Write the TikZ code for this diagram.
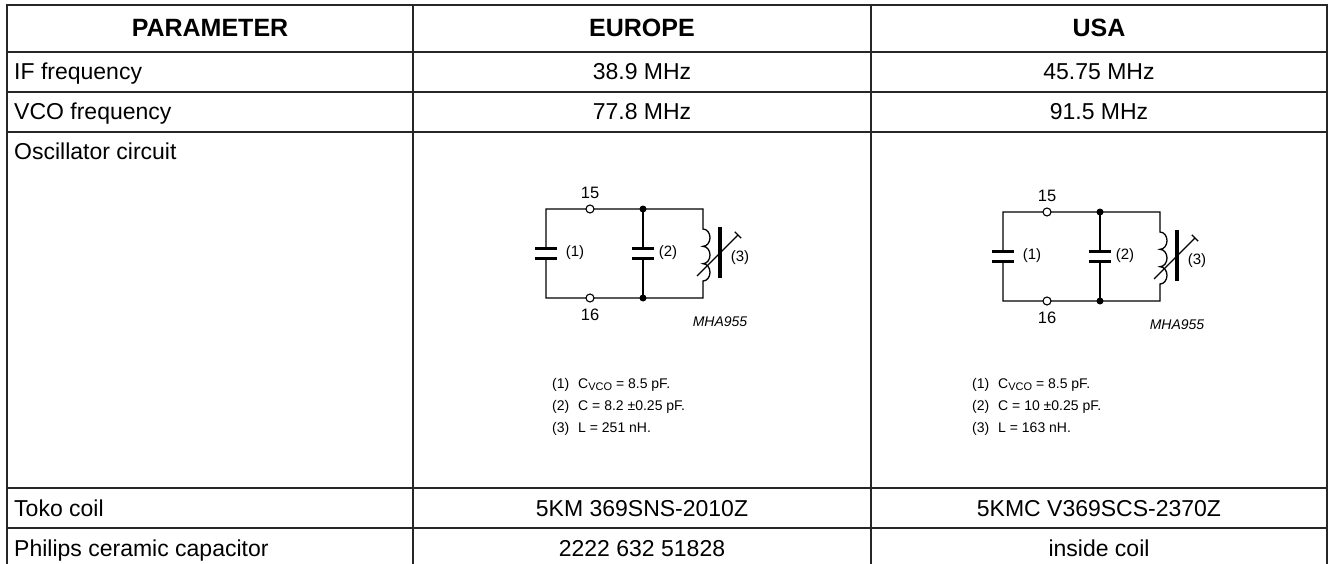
\documentclass[tikz,border=0pt]{standalone}
\usepackage{fontspec}
\setmainfont{Liberation Sans}
\begin{document}
\begin{tikzpicture}[x=1pt,y=-1pt,
  grid/.style={line width=2pt, draw=black!85},
  body/.style={font=\fontsize{23}{26}\selectfont, inner sep=0pt},
  head/.style={font=\fontsize{25}{28}\selectfont\bfseries, inner sep=0pt},
  wire/.style={line width=1.3pt, line join=miter},
  plate/.style={line width=3pt},
  clab/.style={font=\fontsize{16.5}{18}\selectfont, inner sep=0pt},
  plab/.style={font=\fontsize{15}{16}\selectfont, inner sep=0pt},
  legend/.style={font=\fontsize{14}{16}\selectfont, inner sep=0pt, anchor=base west},
  term/.style={circle, draw, fill=white, inner sep=0pt, minimum size=8pt, line width=1.1pt},
  osc/.pic={
    \draw[wire] (546,248) -- (546,209) -- (703,209) -- (703,229)
      arc[start angle=90, end angle=-90, x radius=7pt, y radius=8.67pt]
      arc[start angle=90, end angle=-90, x radius=7pt, y radius=8.67pt]
      arc[start angle=90, end angle=-90, x radius=7pt, y radius=8.67pt]
      -- (703,298) -- (546,298) -- (546,258);
    \draw[wire] (643,209) -- (643,248) (643,258) -- (643,298);
    \draw[plate] (535,248) -- (557,248) (535,258) -- (557,258);
    \draw[plate] (632,248) -- (654,248) (632,258) -- (654,258);
    \draw[line width=3.5pt] (720,227) -- (720,278);
    \draw[wire] (697,276) -- (738,235);
    \draw[wire] (734.8,231.8) -- (741.2,238.2);
    \node[term] (-t15) at (590,209) {};
    \node[term] (-t16) at (590,298) {};
    \fill (643,209) circle[radius=3.5pt] (643,298) circle[radius=3.5pt];
    \node[clab] (-l15) at (590,193) {15};
    \node[clab] (-l16) at (590,315) {16};
    \node[plab] (-c1) at (575,253) {(1)};
    \node[plab] (-c2) at (668,253) {(2)};
    \node[plab] (-c3) at (740,258) {(3)};
    \node[plab, font=\fontsize{14}{16}\selectfont\itshape] (-mha) at (720,322) {MHA955};
  }]
\useasboundingbox (0,0) rectangle (1329,564);
% table grid
\foreach \yy in {5,52,92,132,488,528} \draw[grid] (7,\yy) -- (1327,\yy);
\foreach \xx in {7,413,871,1327} \draw[grid] (\xx,4) -- (\xx,564);
% header
\node[head, anchor=base] (hp) at (210,37) {PARAMETER};
\node[head, anchor=base] (he) at (642,37) {EUROPE};
\node[head, anchor=base] (hu) at (1099,37) {USA};
% rows
\node[body, anchor=base west] (r1) at (14,80) {IF frequency};
\node[body, anchor=base] (r1e) at (642,80) {38.9 MHz};
\node[body, anchor=base] (r1u) at (1099,80) {45.75 MHz};
\node[body, anchor=base west] (r2) at (14,120) {VCO frequency};
\node[body, anchor=base] (r2e) at (642,120) {77.8 MHz};
\node[body, anchor=base] (r2u) at (1099,120) {91.5 MHz};
\node[body, anchor=base west] (r3) at (14,160) {Oscillator circuit};
\node[body, anchor=base west] (r4) at (14,516) {Toko coil};
\node[body, anchor=base] (r4e) at (642,516) {5KM 369SNS-2010Z};
\node[body, anchor=base] (r4u) at (1099,516) {5KMC V369SCS-2370Z};
\node[body, anchor=base west] (r5) at (14,556) {Philips ceramic capacitor};
\node[body, anchor=base] (r5e) at (642,556) {2222 632 51828};
\node[body, anchor=base] (r5u) at (1099,556) {inside coil};
% circuits
\pic (eu) at (0,0) {osc};
\pic (us) at (457,3) {osc};
% legends
\newcommand\vco{C\raisebox{-0.35ex}{\fontsize{11}{12}\selectfont VCO}}
\node[legend] (e1n) at (552,388) {(1)};
\node[legend] (e1t) at (578,388) {\vco{} = 8.5 pF.};
\node[legend] (e2n) at (552,410) {(2)};
\node[legend] (e2t) at (578,410) {C = 8.2 ±0.25 pF.};
\node[legend] (e3n) at (552,432) {(3)};
\node[legend] (e3t) at (578,432) {L = 251 nH.};
\node[legend] (u1n) at (972,388) {(1)};
\node[legend] (u1t) at (998,388) {\vco{} = 8.5 pF.};
\node[legend] (u2n) at (972,410) {(2)};
\node[legend] (u2t) at (998,410) {C = 10 ±0.25 pF.};
\node[legend] (u3n) at (972,432) {(3)};
\node[legend] (u3t) at (998,432) {L = 163 nH.};
\end{tikzpicture}
\end{document}
